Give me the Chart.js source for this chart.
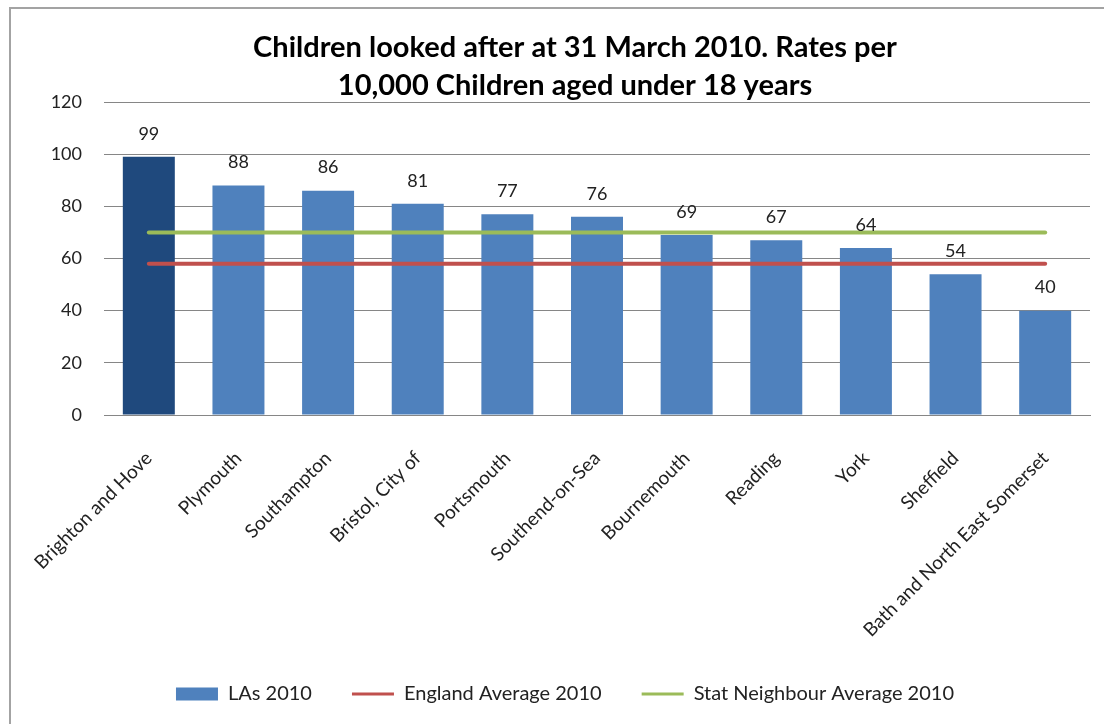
<!DOCTYPE html>
<html lang="en">
<head>
<meta charset="UTF-8">
<title>Children looked after at 31 March 2010</title>
<script src="https://cdn.jsdelivr.net/npm/chart.js"></script>
<style>
  body { margin: 0; padding: 0; background: #fff; overflow: hidden; }
  #frame { position: absolute; left: 9px; top: 7px; width: 1200px; height: 800px; border: 2px solid #a3a3a3; }
  #chart { position: absolute; left: 0; top: 0; }
</style>
</head>
<body>
<div id="frame"></div>
<canvas id="chart" width="1104" height="724"></canvas>
<script>
// chart data
const categories = ['Brighton and Hove', 'Plymouth', 'Southampton', 'Bristol, City of', 'Portsmouth',
    'Southend-on-Sea', 'Bournemouth', 'Reading', 'York', 'Sheffield', 'Bath and North East Somerset'];
const rates = [99, 88, 86, 81, 77, 76, 69, 67, 64, 54, 40];
const englandAverage = 58;
const statNeighbourAverage = 70;
const yTicks = [0, 20, 40, 60, 80, 100, 120];
const highlighted = 'Brighton and Hove';

const titleLines = ['Children looked after at 31 March 2010. Rates per', '10,000 Children aged under 18 years'];

const barColor = '#4F81BD';
const darkBarColor = '#1F497D';
const englandColor = '#C0504D';
const statColor = '#9BBB59';
const textColor = '#222';
const font = { family: 'Lato', size: 18 };

// values written above each bar
const valueLabels = {
    id: 'valueLabels',
    afterDatasetsDraw(chart) {
        const meta = chart.getDatasetMeta(0);
        const ctx = chart.ctx;
        ctx.save();
        ctx.font = '18px Lato';
        ctx.fillStyle = textColor;
        ctx.textAlign = 'center';
        ctx.textBaseline = 'middle';
        meta.data.forEach((bar, i) => {
            ctx.fillText(String(rates[i]), bar.x, bar.y - 23);
        });
        ctx.restore();
    }
};

// the title sits a little right of the legend in the original
const titleShift = {
    id: 'titleShift',
    afterLayout(chart) {
        if (chart.titleBlock) chart.titleBlock.left += 20;
    }
};

const ctx = document.getElementById('chart').getContext('2d');
const chart = new Chart(ctx, {
    data: {
        labels: categories,
        datasets: [{
            type: 'bar',
            label: 'LAs 2010',
            data: rates,
            backgroundColor: categories.map(c => c === highlighted ? darkBarColor : barColor),
            barPercentage: 0.58,
            categoryPercentage: 1,
            order: 2
        }, {
            type: 'line',
            label: 'England Average 2010',
            data: categories.map(() => englandAverage),
            borderColor: englandColor,
            borderWidth: 4,
            borderCapStyle: 'round',
            pointRadius: 0,
            fill: false,
            order: 1
        }, {
            type: 'line',
            label: 'Stat Neighbour Average 2010',
            data: categories.map(() => statNeighbourAverage),
            borderColor: statColor,
            borderWidth: 4,
            borderCapStyle: 'round',
            pointRadius: 0,
            fill: false,
            order: 1
        }]
    },
    options: {
        responsive: false,
        animation: false,
        layout: { padding: { left: 40, right: 14, top: 0, bottom: 10 } },
        scales: {
            x: {
                grid: { display: false },
                border: { display: true, color: '#868686', width: 1 },
                ticks: { minRotation: 45, maxRotation: 45, padding: 24, color: textColor,
                    font: { family: 'Lato', size: 19 } },
                afterFit(scale) { scale.height = 229; }
            },
            y: {
                min: 0,
                max: 120,
                afterBuildTicks(scale) { scale.ticks = yTicks.map(v => ({ value: v })); },
                ticks: { padding: 22, color: textColor, font: font },
                grid: { color: '#868686', drawTicks: false },
                border: { display: false },
                afterFit(scale) { scale.width = 64; }
            }
        },
        plugins: {
            tooltip: { enabled: false },
            title: {
                display: true,
                text: titleLines,
                color: '#000',
                font: { family: 'Lato', size: 29, weight: 'bold', lineHeight: 38 / 29 },
                padding: { top: 29, bottom: -3 }
            },
            legend: {
                position: 'bottom',
                labels: {
                    usePointStyle: true,
                    pointStyleWidth: 42,
                    boxHeight: 13,
                    padding: 40,
                    color: textColor,
                    font: { family: 'Lato', size: 20 },
                    generateLabels(chart) {
                        const items = Chart.defaults.plugins.legend.labels.generateLabels(chart);
                        items.forEach(it => {
                            const ds = chart.data.datasets[it.datasetIndex];
                            if (ds.type === 'line') {
                                it.pointStyle = 'line';
                                it.lineWidth = 3;
                                it.strokeStyle = ds.borderColor;
                            } else {
                                it.pointStyle = 'rect';
                                it.fillStyle = barColor;
                                it.strokeStyle = barColor;
                                it.lineWidth = 0;
                            }
                        });
                        return items.sort((a, b) => a.datasetIndex - b.datasetIndex);
                    }
                }
            }
        }
    },
    plugins: [valueLabels, titleShift]
});
</script>
</body>
</html>
